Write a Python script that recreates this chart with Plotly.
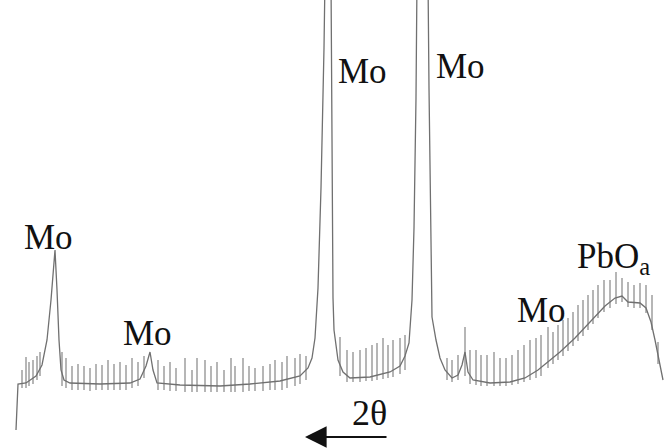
import plotly.graph_objects as go

# Continuous trace of the diffraction pattern (intensity, arbitrary units)
two_theta = [16, 18, 26, 30, 36, 42, 47, 51, 54, 55, 57, 59, 61, 64, 70, 100, 130, 140, 146, 150,
             153, 157, 180, 220, 250, 280, 300, 308, 312, 315, 318, 321, 324, 325,
             331, 332, 333, 334, 336, 338, 343, 350, 370, 390, 400, 405, 409, 412, 414, 416, 417,
             428, 429, 431, 432, 436, 440, 445, 452, 458, 462, 465, 468, 473, 490, 510, 525,
             538, 548, 560, 575, 590, 605, 615, 622, 628, 640, 646, 651, 655, 659, 663]
intensity = [18, 64, 65, 68, 72, 83, 108, 148, 186, 198, 158, 108, 78, 68, 65, 64, 65, 69, 82, 96,
             78, 65, 63, 62, 64, 67, 72, 80, 90, 110, 160, 260, 400, 470,
             470, 280, 150, 118, 100, 88, 76, 70, 71, 76, 82, 92, 105, 148, 220, 350, 470,
             470, 360, 200, 131, 108, 90, 78, 70, 73, 83, 96, 76, 68, 65, 66, 70,
             78, 86, 96, 110, 126, 142, 150, 152, 146, 145, 140, 126, 108, 86, 68]

# Short noise spikes (position, top, bottom)
spike_x = [22, 26, 29, 33, 37, 40, 62, 66, 72, 78, 84, 90, 96, 102, 108, 114, 120, 126, 132, 138,
           144, 158, 164, 170, 176, 185, 192, 197, 205, 211, 217, 224, 231, 235, 243, 249, 255,
           263, 270, 275, 282, 287, 295, 300, 306, 340, 347, 353, 360, 366, 372, 377, 383, 388,
           393, 400, 405, 447, 452, 458, 465, 470, 476, 481, 487, 494, 500, 506, 512, 518, 524,
           530, 536, 541, 548, 553, 558, 563, 568, 573, 578, 583, 588, 593, 598, 604, 610, 616,
           622, 628, 634, 640, 646, 652, 658]
spike_top = [78, 91, 86, 88, 92, 96, 96, 90, 82, 84, 82, 80, 84, 83, 88, 84, 86, 83, 90, 86,
             92, 88, 82, 86, 80, 90, 78, 90, 88, 82, 86, 78, 90, 82, 90, 82, 80,
             82, 84, 88, 86, 92, 90, 94, 92, 111, 98, 96, 98, 100, 103, 105, 110, 103,
             108, 110, 113, 90, 88, 93, 121, 98, 98, 93, 93, 96, 90, 90, 93, 98, 103,
             108, 110, 113, 121, 116, 123, 128, 130, 136, 143, 148, 153, 158, 163, 168, 168, 176,
             170, 166, 163, 165, 163, 153, 106]
spike_bottom = [60, 60, 62, 64, 68, 72, 62, 60, 58, 58, 58, 57, 58, 58, 58, 58, 58, 58, 60, 62,
                70, 58, 58, 57, 57, 56, 56, 56, 56, 56, 56, 56, 56, 56, 56, 57, 57,
                57, 58, 58, 58, 60, 62, 64, 68, 72, 66, 66, 66, 67, 67, 68, 69, 70,
                71, 74, 78, 68, 66, 68, 72, 64, 63, 62, 62, 62, 62, 62, 63, 64, 66,
                68, 70, 72, 80, 84, 88, 92, 97, 102, 107, 112, 118, 124, 130, 136, 140, 144,
                146, 141, 140, 140, 135, 118, 84]

# Phase labels: text and position
label_text = ["Mo", "Mo", "Mo", "Mo", "Mo", "PbO<sub>a</sub>"]
label_x = [48, 147, 362, 460, 541, 613]
label_y = [211, 115, 377, 382, 138, 190]

SERIF = "Liberation Serif, Times New Roman, serif"

sx, sy = [], []
for x, t, b in zip(spike_x, spike_top, spike_bottom):
    sx += [x, x, None]
    sy += [b, t, None]

fig = go.Figure()
fig.add_trace(go.Scatter(x=sx, y=sy, mode="lines",
                         line=dict(color="#7a7a7a", width=1.1), hoverinfo="skip"))
fig.add_trace(go.Scatter(x=two_theta, y=intensity, mode="lines",
                         line=dict(color="#707070", width=1.3), hoverinfo="skip"))

for t, x, y in zip(label_text, label_x, label_y):
    fig.add_annotation(x=x, y=y, text=t, showarrow=False, xanchor="center", yanchor="middle",
                       font=dict(family=SERIF, size=35, color="#111111"))

fig.add_annotation(x=369, y=35, text="2θ", showarrow=False, xanchor="center", yanchor="middle",
                   font=dict(family=SERIF, size=36, color="#111111"))
fig.add_annotation(x=305, y=11, ax=388, ay=11, axref="x", ayref="y", text="",
                   showarrow=True, arrowhead=2, arrowsize=2.4, arrowwidth=1.8, arrowcolor="#111111")

fig.update_layout(width=664, height=448, margin=dict(l=0, r=0, t=0, b=0),
                  paper_bgcolor="white", plot_bgcolor="white", showlegend=False)
fig.update_xaxes(range=[0, 664], visible=False, fixedrange=True)
fig.update_yaxes(range=[0, 448], visible=False, fixedrange=True)
fig.write_html("out.html", config={"displayModeBar": False, "staticPlot": True},
               post_script="document.body.style.margin='0';")
